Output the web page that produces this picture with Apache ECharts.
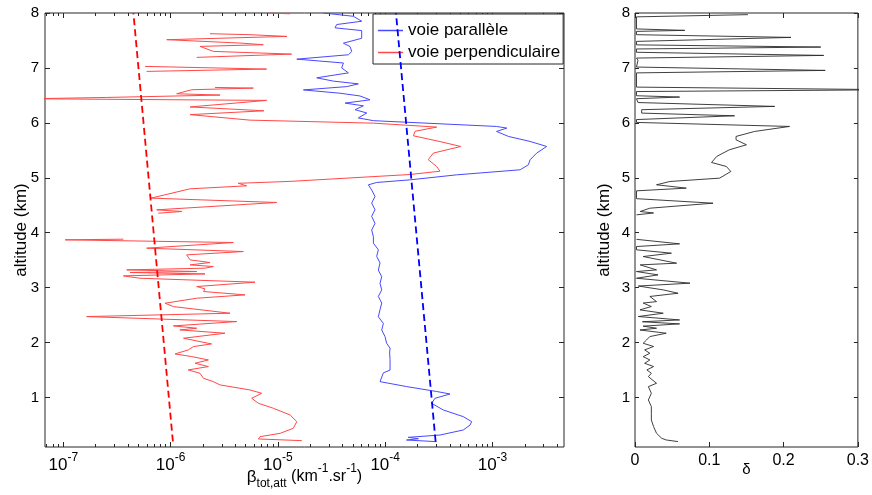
<!DOCTYPE html>
<html><head><meta charset="utf-8">
<script src="https://cdn.jsdelivr.net/npm/echarts@6/dist/echarts.min.js"></script>
<style>html,body{margin:0;padding:0;background:#fff}#c{width:872px;height:495px}</style>
</head><body><div id="c"></div>
<script>
// ---------- data ----------
const parAlt = [8.00,7.94,7.85,7.79,7.73,7.68,7.54,7.45,7.39,7.30,7.24,7.16,7.09,7.00,6.91,6.82,6.76,6.71,6.66,6.60,6.54,6.49,6.42,6.36,6.31,6.24,6.18,6.09,6.04,5.935,5.905,5.844,5.753,5.662,5.571,5.449,5.328,5.237,5.146,5.054,4.963,4.915,4.872,4.78,4.66,4.54,4.42,4.30,4.17,4.05,3.93,3.81,3.69,3.57,3.45,3.32,3.20,3.08,2.96,2.84,2.72,2.60,2.47,2.35,2.23,2.11,1.99,1.90,1.81,1.69,1.50,1.45,1.29,1.20,1.11,1.065,0.986,0.895,0.774,0.652,0.561,0.50,0.41,0.318,0.276,0.251,0.227,0.197];
const parBeta = [2.65e-5,5.05e-5,6.04e-5,3.53e-5,3.41e-5,6.04e-5,6.04e-5,4.08e-5,4.70e-5,4.88e-5,4.54e-5,1.50e-5,4.08e-5,3.93e-5,4.54e-5,2.30e-5,3.29e-5,5.62e-5,4.38e-5,1.73e-5,3.79e-5,5.82e-5,7.22e-5,4.23e-5,6.26e-5,5.24e-5,6.73e-5,5.62e-5,7.76e-5,1.09e-3,1.36e-3,1.09e-3,1.41e-3,2.24e-3,3.20e-3,2.58e-3,2.24e-3,2.16e-3,1.81e-3,4.64e-4,1.71e-4,8.33e-5,6.97e-5,7.48e-5,8.04e-5,7.48e-5,8.04e-5,7.48e-5,8.04e-5,7.48e-5,7.76e-5,7.76e-5,8.63e-5,8.33e-5,8.95e-5,8.63e-5,9.28e-5,8.95e-5,9.28e-5,8.63e-5,9.28e-5,8.95e-5,8.63e-5,9.62e-5,9.28e-5,9.96e-5,1.03e-4,1.11e-4,1.10e-4,1.11e-4,1.11e-4,9.62e-5,8.95e-5,1.58e-4,3.02e-4,4.02e-4,2.91e-4,2.71e-4,3.48e-4,5.35e-4,6.40e-4,6.18e-4,5.35e-4,3.24e-4,1.64e-4,2.04e-4,1.58e-4,3.02e-4];

const perpAlt = [8.00,7.985,7.98,7.623,7.605,7.574,7.514,7.453,7.423,7.392,7.301,7.252,7.192,7.18,7.028,6.979,6.937,6.93,6.645,6.633,6.603,6.530,6.506,6.463,6.439,6.409,6.29,6.22,6.15,6.05,5.995,5.923,5.847,5.765,5.660,5.570,5.450,5.330,5.205,5.120,5.060,4.935,4.900,4.854,4.800,4.630,4.551,4.417,4.387,4.356,4.35,3.883,3.871,3.822,3.719,3.658,3.597,3.506,3.458,3.415,3.385,3.355,3.324,3.294,3.276,3.251,3.215,3.172,3.100,3.021,2.978,2.930,2.869,2.808,2.717,2.656,2.535,2.474,2.383,2.304,2.262,2.231,2.171,2.080,1.976,1.928,1.867,1.794,1.746,1.685,1.624,1.564,1.503,1.442,1.351,1.290,1.230,1.138,1.078,0.987,0.896,0.805,0.683,0.562,0.440,0.349,0.288,0.246,0.216];
const perpBeta = [8.0e-6,1.3e-5,null,2.33e-6,5.50e-6,1.21e-5,9.20e-7,4.43e-6,7.31e-6,1.88e-6,2.50e-6,1.34e-5,1.75e-6,null,5.78e-7,7.85e-6,5.98e-7,null,2.59e-6,5.90e-6,1.57e-6,1.14e-6,2.89e-6,2.54e-7,5e-8,7.85e-6,1.52e-6,7.41e-6,1.52e-6,5.48e-6,7.76e-5,3.02e-4,1.90e-4,1.83e-4,3.24e-4,5.06e-4,2.81e-4,2.52e-4,3.02e-4,3.24e-4,1.70e-4,1.30e-5,4.27e-6,5.11e-6,1.52e-6,6.57e-7,9.75e-6,7.42e-7,1.27e-6,7.69e-7,null,3.63e-7,1.04e-7,3.85e-6,5.98e-7,4.76e-6,1.41e-6,1.52e-6,2.33e-6,1.52e-6,2.50e-6,2.09e-6,3.90e-7,1.75e-6,4.19e-7,2.09e-6,3.63e-7,5.19e-7,6.12e-6,1.75e-6,2.09e-6,2.03e-6,4.94e-6,1.75e-6,8.87e-7,1.06e-6,3.58e-6,1.65e-7,4.13e-6,1.06e-6,1.75e-6,1.22e-6,3.21e-6,1.32e-6,2.41e-6,1.63e-6,1.46e-6,1.10e-6,1.57e-6,2.25e-6,1.69e-6,2.25e-6,1.46e-6,1.88e-6,2.02e-6,2.50e-6,2.89e-6,5.50e-6,7.06e-6,5.70e-6,6.58e-6,9.08e-6,1.30e-5,1.50e-5,1.39e-5,1.05e-5,6.81e-6,6.58e-6,1.67e-5];

const molAlt = [0.2, 8.0];
const molParBeta = [2.95e-4, 1.26e-4];
const molPerpBeta = [1.05e-6, 4.5e-7];

const deltaAlt = [7.97,7.93,7.71,7.684,7.665,7.605,7.556,7.483,7.42,7.380,7.345,7.285,7.228,7.18,7.14,7.016,6.955,6.91,6.651,6.603,6.57,6.494,6.470,6.44,6.37,6.300,6.24,6.178,6.129,6.06,6.008,5.935,5.844,5.753,5.692,5.601,5.510,5.389,5.279,5.206,5.115,4.994,4.933,4.873,4.812,4.763,4.62,4.538,4.447,4.387,4.36,4.326,4.32,3.88,3.798,3.749,3.689,3.628,3.567,3.446,3.415,3.324,3.294,3.233,3.172,3.082,3.03,2.960,2.899,2.84,2.747,2.72,2.657,2.596,2.535,2.475,2.413,2.38,2.341,2.30,2.262,2.23,2.171,2.110,2.049,1.988,1.93,1.867,1.806,1.745,1.685,1.624,1.564,1.503,1.442,1.381,1.26,1.199,1.078,0.956,0.835,0.714,0.592,0.471,0.349,0.258,0.228,0.198];
const delta = [0.152,0.002,0.002,0.067,0.002,0.002,0.210,0.002,0.002,0.250,0.002,0.002,0.254,0.002,0.004,0.002,0.256,0.002,0.002,0.35,0.002,0.002,0.060,0.002,0.004,0.188,0.009,0.009,0.134,0.002,0.002,0.208,0.161,0.136,0.136,0.150,0.127,0.110,0.103,0.123,0.129,0.114,0.047,0.029,0.069,0.002,0.002,0.105,0.020,0.007,0.025,0.002,null,0.002,0.060,0.002,0.002,0.049,0.011,0.056,0.007,0.029,0.002,0.031,0.002,0.074,0.0045,0.038,0.058,0.020,0.029,0.011,0.022,0.0067,0.038,0.0045,0.060,0.010,0.060,0.011,0.029,0.0067,0.042,0.020,0.0156,0.011,0.025,0.013,0.020,0.011,0.020,0.013,0.025,0.016,0.022,0.018,0.029,0.018,0.022,0.018,0.022,0.022,0.022,0.025,0.029,0.036,0.042,0.058];

const altTicks = [1,2,3,4,5,6,7,8];
const betaTicks = [1e-7,1e-6,1e-5,1e-4,1e-3];
const deltaTicks = [0,0.1,0.2,0.3];
const legendNames = ['voie parallèle','voie perpendiculaire'];
const betaName = '{b|β}{sub|tot,att}{n| (km}{sup|-1}{n|.sr}{sup|-1}{n|)}';
const altName = 'altitude (km)';
const deltaName = 'δ';

// ---------- chart ----------
const FONT = '"Liberation Sans", Arial, Helvetica, sans-serif';
const AX = '#262626';
const X_MIN = 6.75e-8, X_MAX = 4.64e-3;
const betaMinor = [];
for (let e = -8; e <= -3; e++) for (let k = 2; k <= 9; k++) {
  const v = k * Math.pow(10, e);
  if (v > X_MIN && v < X_MAX) betaMinor.push(v);
}
const pairs = (xs, ys) => ys.map((y, i) => xs[i] == null ? ['-', '-'] : [xs[i], y]);

const logBase = (extra) => Object.assign({
  type: 'log', logBase: 10, min: X_MIN, max: X_MAX, gridIndex: 0,
  axisLine: {show: false, onZero: false}, splitLine: {show: false}, minorTick: {show: false}
}, extra);
const tickStyle = {color: AX, width: 1};

const option = {
  animation: false,
  backgroundColor: '#fff',
  textStyle: {fontFamily: FONT, color: '#000'},
  grid: [
    {left: 45, top: 13, width: 519, height: 434, show: true, borderColor: AX, borderWidth: 1, backgroundColor: '#fff'},
    {left: 635, top: 13, width: 224, height: 434, show: true, borderColor: AX, borderWidth: 1, backgroundColor: '#fff'}
  ],
  legend: {
    data: legendNames, orient: 'vertical', left: 373, top: 14,
    itemWidth: 25, itemHeight: 1.5, itemGap: 5, icon: 'rect',
    padding: [8, 3, 3, 5], borderColor: AX, borderWidth: 1, borderRadius: 0,
    backgroundColor: '#fff', selectedMode: false,
    textStyle: {fontSize: 17, fontFamily: FONT, color: '#000'}
  },
  xAxis: [
    logBase({position: 'bottom',
      axisTick: {inside: true, length: 5, customValues: betaTicks, lineStyle: tickStyle},
      axisLabel: {customValues: betaTicks, margin: 5, color: '#000',
        formatter: v => '{b|10}{s|' + Math.round(Math.log10(v)) + '}',
        rich: {b: {fontSize: 17, fontFamily: FONT, color: '#000'},
               s: {fontSize: 12, fontFamily: FONT, color: '#000', padding: [0, 0, 14, 0]}}},
      name: betaName, nameLocation: 'middle', nameGap: 16, nameMoveOverlap: false,
      nameTextStyle: {fontSize: 16, fontFamily: FONT, color: '#000',
        rich: {b: {fontSize: 17, fontFamily: FONT, color: '#000'},
               n: {fontSize: 16, fontFamily: FONT, color: '#000'},
               sub: {fontSize: 12, fontFamily: FONT, color: '#000', padding: [14, 0, 0, 0]},
               sup: {fontSize: 12, fontFamily: FONT, color: '#000', padding: [0, 0, 16, 0]}}}
    }),
    logBase({position: 'bottom', axisTick: {inside: true, length: 3, customValues: betaMinor, lineStyle: tickStyle}, axisLabel: {show: false}}),
    logBase({position: 'top', axisTick: {inside: true, length: 5, customValues: betaTicks, lineStyle: tickStyle}, axisLabel: {show: false}}),
    logBase({position: 'top', axisTick: {inside: true, length: 3, customValues: betaMinor, lineStyle: tickStyle}, axisLabel: {show: false}}),
    {type: 'value', gridIndex: 1, min: 0, max: 0.3, interval: 0.1, position: 'bottom',
      axisLine: {show: false, onZero: false}, splitLine: {show: false},
      axisTick: {inside: true, length: 5, lineStyle: tickStyle},
      axisLabel: {customValues: deltaTicks, fontSize: 16, color: '#000', margin: 6, interval: 0},
      name: deltaName, nameLocation: 'middle', nameGap: 15, nameMoveOverlap: false,
      nameTextStyle: {fontSize: 15, fontFamily: FONT, color: '#000'}},
    {type: 'value', gridIndex: 1, min: 0, max: 0.3, interval: 0.1, position: 'top',
      axisLine: {show: false, onZero: false}, splitLine: {show: false},
      axisTick: {inside: true, length: 5, lineStyle: tickStyle}, axisLabel: {show: false}}
  ],
  yAxis: [
    {type: 'value', gridIndex: 0, min: 0.1, max: 8, position: 'left',
      axisLine: {show: false, onZero: false}, splitLine: {show: false},
      axisTick: {inside: true, length: 5, customValues: altTicks, lineStyle: tickStyle},
      axisLabel: {customValues: altTicks, fontSize: 15, color: '#000', margin: 6},
      name: altName, nameLocation: 'middle', nameRotate: 90, nameGap: 15, nameMoveOverlap: false,
      nameTextStyle: {fontSize: 17, fontFamily: FONT, color: '#000'}},
    {type: 'value', gridIndex: 0, min: 0.1, max: 8, position: 'right',
      axisLine: {show: false, onZero: false}, splitLine: {show: false},
      axisTick: {inside: true, length: 5, customValues: altTicks, lineStyle: tickStyle}, axisLabel: {show: false}},
    {type: 'value', gridIndex: 1, min: 0.1, max: 8, position: 'left',
      axisLine: {show: false, onZero: false}, splitLine: {show: false},
      axisTick: {inside: true, length: 4, customValues: altTicks, lineStyle: tickStyle},
      axisLabel: {customValues: altTicks, fontSize: 15, color: '#000', margin: 5},
      name: altName, nameLocation: 'middle', nameRotate: 90, nameGap: 22, nameMoveOverlap: false,
      nameTextStyle: {fontSize: 17, fontFamily: FONT, color: '#000'}},
    {type: 'value', gridIndex: 1, min: 0.1, max: 8, position: 'right',
      axisLine: {show: false, onZero: false}, splitLine: {show: false},
      axisTick: {inside: true, length: 4, customValues: altTicks, lineStyle: tickStyle}, axisLabel: {show: false}}
  ],
  series: [
    {type: 'line', name: legendNames[0], xAxisIndex: 0, yAxisIndex: 0, data: pairs(parBeta, parAlt),
      symbol: 'none', showSymbol: false, color: '#4848ff', lineStyle: {width: 1, color: '#4848ff'}, z: 3},
    {type: 'line', name: legendNames[1], xAxisIndex: 0, yAxisIndex: 0, data: pairs(perpBeta, perpAlt),
      symbol: 'none', showSymbol: false, color: '#ff4848', lineStyle: {width: 1, color: '#ff4848'}, z: 3},
    {type: 'line', xAxisIndex: 0, yAxisIndex: 0, data: pairs(molParBeta, molAlt),
      symbol: 'none', lineStyle: {width: 1.8, color: '#0000ff', type: [7, 4]}, z: 4},
    {type: 'line', xAxisIndex: 0, yAxisIndex: 0, data: pairs(molPerpBeta, molAlt),
      symbol: 'none', lineStyle: {width: 1.8, color: '#ff0000', type: [7, 4]}, z: 4},
    {type: 'line', xAxisIndex: 4, yAxisIndex: 2, data: pairs(delta, deltaAlt),
      symbol: 'none', showSymbol: false, lineStyle: {width: 0.9, color: '#2a2a2a'}, z: 3}
  ]
};
const chart = echarts.init(document.getElementById('c'));
chart.setOption(option);
</script>
</body></html>
